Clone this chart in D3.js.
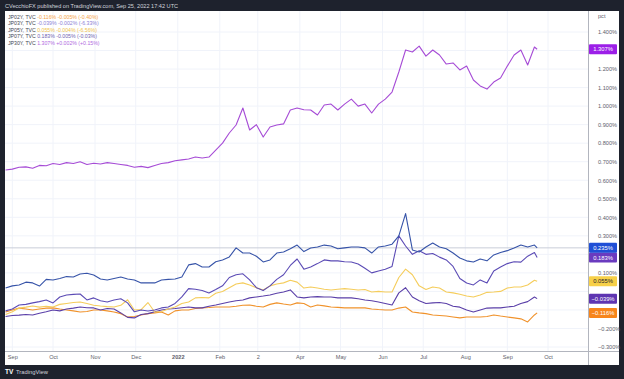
<!DOCTYPE html>
<html><head><meta charset="utf-8">
<script src="https://cdn.jsdelivr.net/npm/d3@7"></script>
<style>
body{margin:0;background:#1e222d}
svg{display:block}
text{font-family:"Liberation Sans","DejaVu Sans",sans-serif}
</style>
</head><body>
<svg id="c" width="624" height="379"></svg>
<script>
// ---------- DATA ----------
const startDate = new Date(2021, 7, 27);
const stepDays = 5;
const lastDate = new Date(2022, 8, 23);

const jp30 = [0.655,0.660,0.670,0.672,0.665,0.680,0.678,0.690,0.685,0.695,0.690,0.700,0.685,0.692,0.688,0.695,0.690,0.685,0.680,0.670,0.675,0.668,0.680,0.690,0.695,0.705,0.710,0.715,0.725,0.720,0.725,0.763,0.800,0.855,0.898,0.990,0.871,0.900,0.833,0.887,0.898,0.904,0.979,0.990,0.980,0.979,0.952,1.006,1.011,0.979,1.011,1.038,1.000,1.011,0.963,1.011,1.038,1.076,1.184,1.303,1.292,1.324,1.270,1.303,1.276,1.227,1.233,1.195,1.216,1.141,1.109,1.092,1.130,1.152,1.216,1.276,1.303,1.222,1.319,1.307];
const jp10 = [0.018,0.030,0.035,0.050,0.046,0.029,0.065,0.062,0.070,0.080,0.078,0.094,0.098,0.089,0.067,0.062,0.070,0.078,0.067,0.062,0.046,0.046,0.046,0.062,0.065,0.067,0.078,0.143,0.150,0.132,0.132,0.160,0.170,0.186,0.235,0.207,0.207,0.190,0.159,0.170,0.207,0.213,0.230,0.250,0.215,0.234,0.240,0.250,0.245,0.230,0.235,0.240,0.240,0.235,0.207,0.240,0.245,0.255,0.300,0.420,0.224,0.213,0.240,0.261,0.240,0.230,0.207,0.180,0.165,0.159,0.175,0.165,0.197,0.210,0.220,0.234,0.250,0.240,0.250,0.235];
const jp07 = [-0.105,-0.095,-0.073,-0.070,-0.062,-0.055,-0.046,-0.062,-0.030,-0.019,-0.016,-0.014,-0.046,-0.035,-0.050,-0.057,-0.046,-0.040,-0.062,-0.110,-0.100,-0.106,-0.100,-0.089,-0.084,-0.065,-0.030,0.015,0.012,0.005,-0.008,0.010,0.030,0.075,0.090,0.095,0.062,0.020,0.005,0.030,0.065,0.090,0.140,0.175,0.120,0.132,0.150,0.170,0.165,0.165,0.160,0.159,0.148,0.125,0.100,0.110,0.120,0.135,0.300,0.245,0.200,0.220,0.200,0.205,0.185,0.170,0.135,0.070,0.045,0.035,0.062,0.046,0.110,0.132,0.150,0.160,0.158,0.190,0.210,0.183];
const jp05 = [-0.125,-0.110,-0.090,-0.085,-0.079,-0.085,-0.080,-0.084,-0.070,-0.065,-0.060,-0.057,-0.065,-0.075,-0.079,-0.082,-0.084,-0.075,-0.045,-0.100,-0.098,-0.060,-0.111,-0.108,-0.095,-0.084,-0.065,-0.057,-0.035,-0.033,-0.035,-0.010,0.000,0.020,0.040,0.046,0.035,0.020,0.008,0.030,0.040,0.046,0.060,0.050,0.018,0.024,0.018,0.012,0.008,0.012,0.015,0.012,0.008,0.010,-0.003,0.000,-0.003,-0.003,0.075,0.120,0.090,0.030,0.010,0.024,0.018,-0.003,-0.008,-0.015,-0.025,-0.030,-0.019,-0.005,-0.003,0.000,0.018,0.024,0.024,0.035,0.060,0.055];
const jp03 = [-0.135,-0.130,-0.128,-0.125,-0.127,-0.118,-0.110,-0.100,-0.105,-0.095,-0.090,-0.084,-0.088,-0.089,-0.100,-0.092,-0.095,-0.116,-0.140,-0.143,-0.125,-0.120,-0.110,-0.100,-0.095,-0.092,-0.088,-0.084,-0.089,-0.089,-0.080,-0.073,-0.065,-0.057,-0.050,-0.046,-0.035,-0.030,-0.025,-0.019,-0.010,-0.003,0.008,-0.030,-0.035,-0.030,-0.028,-0.030,-0.030,-0.035,-0.035,-0.035,-0.040,-0.046,-0.050,-0.057,-0.065,-0.073,-0.008,0.020,-0.030,-0.050,-0.065,-0.062,-0.060,-0.065,-0.080,-0.085,-0.100,-0.111,-0.100,-0.090,-0.089,-0.089,-0.084,-0.080,-0.065,-0.055,-0.030,-0.039];
const jp02 = [-0.111,-0.100,-0.090,-0.095,-0.100,-0.095,-0.090,-0.089,-0.095,-0.100,-0.105,-0.111,-0.108,-0.100,-0.100,-0.105,-0.111,-0.120,-0.138,-0.135,-0.127,-0.120,-0.116,-0.111,-0.127,-0.105,-0.100,-0.100,-0.092,-0.089,-0.087,-0.084,-0.084,-0.084,-0.080,-0.075,-0.073,-0.080,-0.084,-0.070,-0.062,-0.068,-0.073,-0.062,-0.065,-0.084,-0.073,-0.078,-0.084,-0.086,-0.089,-0.089,-0.089,-0.089,-0.095,-0.098,-0.100,-0.100,-0.090,-0.084,-0.111,-0.116,-0.120,-0.127,-0.130,-0.133,-0.138,-0.143,-0.138,-0.138,-0.138,-0.135,-0.127,-0.133,-0.138,-0.143,-0.148,-0.165,-0.127,-0.116];

const monthTicks = [[2021,8],[2021,9],[2021,10],[2021,11],[2022,0],[2022,1],[2022,2],[2022,3],[2022,4],[2022,5],[2022,6],[2022,7],[2022,8],[2022,9]];
const monthLabels = ["Sep","Oct","Nov","Dec","2022","Feb","2","Apr","May","Jun","Jul","Aug","Sep","Oct"];
const yTicks = [-0.3,-0.2,-0.1,0,0.1,0.2,0.3,0.4,0.5,0.6,0.7,0.8,0.9,1.0,1.1,1.2,1.3,1.4];

const legendRows = [
  {name:"JP02Y, TVC", val:"-0.116%", chg:"-0.005% (-0.40%)", color:"#f5a347"},
  {name:"JP03Y, TVC", val:"-0.039%", chg:"-0.002% (-6.33%)", color:"#8d7fd6"},
  {name:"JP05Y, TVC", val:"0.055%",  chg:"-0.004% (-6.56%)", color:"#f0c24a"},
  {name:"JP07Y, TVC", val:"0.183%",  chg:"-0.005% (-0.03%)", color:"#6f62b2"},
  {name:"JP30Y, TVC", val:"1.307%",  chg:"+0.002% (+0.15%)", color:"#b06ae0"}
];

const series = [
  {values:jp02, line:"#f0922b", label:"#f7851b", text:"#ffffff", last:-0.116},
  {values:jp03, line:"#5a3fa8", label:"#5e35b1", text:"#ffffff", last:-0.039},
  {values:jp05, line:"#f5cd5c", label:"#f7d048", text:"#1e222d", last:0.055},
  {values:jp07, line:"#5b4bb5", label:"#6a3bbf", text:"#ffffff", last:0.183},
  {values:jp10, line:"#3653a8", label:"#1f4fd6", text:"#ffffff", last:0.235},
  {values:jp30, line:"#a64cd6", label:"#9c1fe8", text:"#ffffff", last:1.307}
];

// ---------- LAYOUT ----------
const svg = d3.select("#c");
const paneL = 5, paneR = 588, paneT = 11, paneB = 351, axisR = 619, footT = 365;

const dates = d3.timeDay.range(startDate, d3.timeDay.offset(startDate, 391), stepDays);
dates.push(lastDate);

const x = d3.scaleTime().domain([new Date(2021,9,1), new Date(2022,9,1)]).range([53, 548]);
const y = d3.scaleLinear().domain([-0.3, 1.4]).range([347, 32]);

svg.append("rect").attr("width",624).attr("height",379).attr("fill","#1e222d");
svg.append("rect").attr("x",paneL).attr("y",paneT).attr("width",axisR-paneL).attr("height",footT-paneT).attr("fill","#ffffff");

// header
svg.append("text").attr("x",5).attr("y",8).attr("font-size",5.6).attr("fill","#d1d4dc")
  .text("CVecchioFX published on TradingView.com, Sep 25, 2022 17:42 UTC");

// grid
const tickDates = monthTicks.map(d => new Date(d[0], d[1], 1));
const grid = svg.append("g");
grid.selectAll("line.v").data(tickDates).join("line")
  .attr("x1",d=>x(d)).attr("x2",d=>x(d)).attr("y1",paneT).attr("y2",paneB)
  .attr("stroke","#f0f3fa").attr("stroke-width",1);
grid.selectAll("line.h").data(yTicks).join("line")
  .attr("x1",paneL).attr("x2",paneR).attr("y1",d=>y(d)).attr("y2",d=>y(d))
  .attr("stroke","#f0f3fa").attr("stroke-width",1);

// price line for main series
svg.append("line").attr("x1",paneL).attr("x2",paneR)
  .attr("y1",y(series[4].last)).attr("y2",y(series[4].last))
  .attr("stroke","#c9cdd8").attr("stroke-width",1);

// clip
svg.append("clipPath").attr("id","clip").append("rect")
  .attr("x",paneL).attr("y",paneT).attr("width",paneR-paneL).attr("height",paneB-paneT);

const line = d3.line().x((d,i)=>x(dates[i])).y(d=>y(d));
const lines = svg.append("g").attr("clip-path","url(#clip)");
series.forEach(s => {
  lines.append("path").datum(s.values).attr("d",line)
    .attr("fill","none").attr("stroke",s.line).attr("stroke-width",1.1).attr("stroke-linejoin","round");
});

// separators
svg.append("line").attr("x1",paneR+0.5).attr("x2",paneR+0.5).attr("y1",paneT).attr("y2",footT).attr("stroke","#b2b5be");
svg.append("line").attr("x1",paneL).attr("x2",axisR).attr("y1",paneB+0.5).attr("y2",paneB+0.5).attr("stroke","#b2b5be");

// y axis (tick labels hidden behind last-value badges are left out, as in the reference)
const fmt = d3.format(".3f");
const visibleTicks = yTicks.filter(t => series.every(s => Math.abs(y(t) - y(s.last)) > 8));
const yAxis = d3.axisRight(y).tickValues(visibleTicks).tickSize(0).tickPadding(0)
  .tickFormat(d => (Math.abs(d) < 1e-9 ? "0.000" : fmt(d).replace("-","\u2212")) + "%");
const ya = svg.append("g").attr("transform",`translate(${paneR+10},0)`).call(yAxis);
ya.select(".domain").remove();
ya.selectAll("text").attr("font-size",5.6).attr("fill","#5d606b").attr("font-family","Liberation Sans, sans-serif");
svg.append("text").attr("x",paneR+10).attr("y",18).attr("font-size",5.6).attr("fill","#5d606b").text("pct");

// x axis
const xAxis = d3.axisBottom(x).tickValues(tickDates).tickSize(0).tickPadding(0)
  .tickFormat((d,i) => monthLabels[i]);
const xa = svg.append("g").attr("transform",`translate(0,${paneB+4})`).call(xAxis);
xa.select(".domain").remove();
xa.selectAll("text").attr("font-size",5.6).attr("fill","#5d606b").attr("font-family","Liberation Sans, sans-serif")
  .attr("font-weight",(d,i)=>monthLabels[i]==="2022"?"bold":"normal");

// last value labels
const lab = svg.append("g");
series.forEach(s => {
  const yy = y(s.last);
  lab.append("rect").attr("x",paneR+1).attr("y",yy-5).attr("width",28).attr("height",10)
    .attr("fill",s.label).attr("rx",1);
  lab.append("text").attr("x",paneR+15).attr("y",yy+2).attr("text-anchor","middle")
    .attr("font-size",5.8).attr("fill",s.text).text(fmt(s.last).replace("-","\u2212")+"%");
});

// legend
const lg = svg.append("g");
legendRows.forEach((r,i) => {
  const t = lg.append("text").attr("x",8).attr("y",18.5 + i*6.5).attr("font-size",5.2);
  t.append("tspan").attr("fill","#434651").text(r.name + "  ");
  t.append("tspan").attr("fill",r.color).text(r.val + "  " + r.chg);
});

// footer
svg.append("text").attr("x",5).attr("y",374).attr("font-size",6.5).attr("font-weight","bold").attr("fill","#ffffff").text("TV");
svg.append("text").attr("x",16).attr("y",374).attr("font-size",5.8).attr("fill","#d1d4dc").text("TradingView");
</script>
</body></html>
